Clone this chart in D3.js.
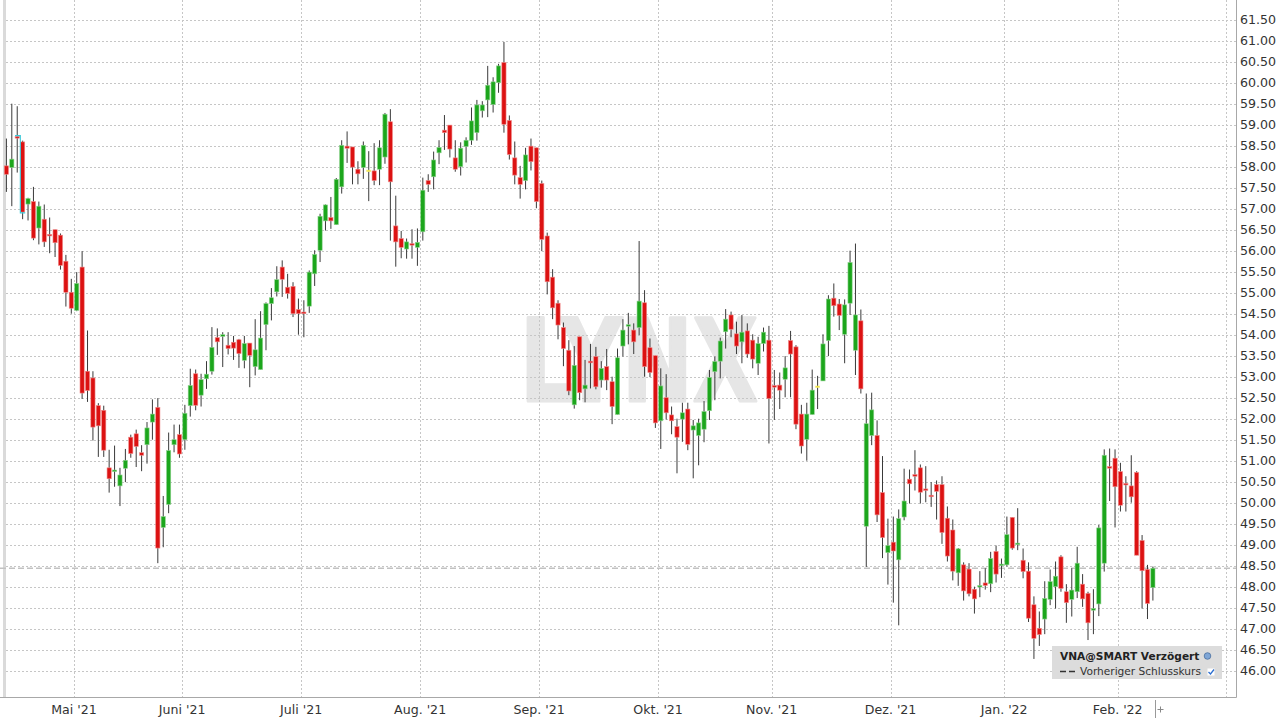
<!DOCTYPE html>
<html><head><meta charset="utf-8">
<script src="https://cdn.jsdelivr.net/npm/d3@7"></script>
<style>html,body{margin:0;padding:0;background:#fff;}svg{display:block;}</style>
</head><body>
<script>
// ---------- DATA ----------
const startDate = "2021-04-14";
const lastDate = "2022-02-09";
const axisEndDate = "2022-03-01";
const holidays = ["2021-05-24", "2021-12-24", "2021-12-31"];
const monthNames = ["Jan.", "Feb.", "März", "Apr.", "Mai", "Juni", "Juli", "Aug.", "Sep.", "Okt.", "Nov.", "Dez."];
const yTicks = d3.range(46, 61.501, 0.5);
const prevClose = 48.44;
const title = "VNA@SMART Verzögert";
const prevCloseLabel = "Vorheriger Schlusskurs";

const open = [58.02,57.98,58.72,58.59,57.11,57.17,56.54,56.75,56.37,56.50,56.37,55.75,55.01,54.58,55.61,53.13,52.97,52.31,52.20,50.83,
50.74,50.40,50.82,51.56,51.64,51.19,51.38,51.92,52.27,49.41,49.96,51.38,51.62,51.50,52.31,53.07,52.56,52.95,53.13,53.93,
53.96,53.75,53.82,53.88,53.39,53.80,53.24,53.17,54.24,54.74,55.02,55.61,55.13,55.15,54.60,54.54,54.68,55.45,56.01,56.71,
56.79,56.62,57.52,58.49,58.47,57.94,57.98,57.90,57.90,57.94,58.23,59.07,56.59,56.29,56.04,56.15,56.08,56.45,57.67,57.76,
58.33,58.87,58.99,58.21,58.00,58.48,58.63,58.81,59.33,59.59,59.48,60.00,60.48,59.10,58.21,57.74,57.67,58.49,58.45,57.60,
56.35,55.37,54.75,54.17,53.63,52.33,53.95,52.71,53.37,53.48,52.92,53.24,52.88,52.10,53.73,54.19,54.11,54.17,54.76,53.69,
53.50,51.95,52.50,52.09,51.81,51.99,52.23,51.73,51.60,51.75,52.19,53.12,53.37,54.07,54.47,54.02,53.83,54.09,53.87,53.32,
53.79,53.87,52.79,52.80,52.94,53.86,53.71,52.11,51.51,52.10,52.76,52.90,53.86,54.87,54.73,54.01,54.75,53.63,54.33,49.44,
51.60,51.60,50.24,48.81,49.06,48.64,49.66,50.56,50.67,50.83,50.31,50.16,50.43,50.43,49.63,49.35,48.33,48.52,48.42,47.94,
47.98,48.09,48.07,48.84,48.50,48.52,49.65,48.99,48.63,48.37,47.57,47.01,47.23,47.70,48.00,48.71,47.88,47.70,47.88,48.06,
47.84,47.44,47.59,48.56,50.84,51.06,50.74,50.44,50.40,50.72,49.10,48.41,47.98];
const high = [58.67,59.50,59.44,58.62,57.26,57.52,57.17,57.10,56.79,56.50,56.41,55.90,55.33,55.49,55.99,54.10,53.13,52.37,52.31,51.26,
51.36,50.83,51.28,51.62,51.74,51.37,51.92,52.46,52.49,50.16,51.67,51.86,51.86,52.33,53.19,53.17,53.07,53.37,54.18,54.15,
54.06,54.06,53.97,53.90,53.97,53.80,54.37,54.56,54.77,55.11,55.63,55.77,55.45,55.25,54.86,54.82,55.53,56.01,56.88,57.10,
57.28,57.73,58.63,58.84,58.47,58.13,58.60,58.37,58.56,58.63,59.28,59.37,57.31,56.47,56.29,56.51,56.53,57.74,57.82,58.36,
58.63,59.23,58.99,58.63,58.58,58.70,59.41,59.59,59.56,60.40,60.13,60.45,60.97,59.22,58.60,58.02,58.45,58.67,58.45,57.67,
56.43,55.56,54.82,54.29,53.87,53.73,53.95,53.40,53.78,53.71,53.37,53.66,53.00,53.67,54.37,54.52,54.27,56.23,55.06,53.91,
53.50,53.20,53.06,52.29,52.00,52.38,52.38,51.97,52.00,52.42,53.16,53.48,53.93,54.61,54.55,54.31,54.47,54.27,54.01,53.95,
54.17,54.21,53.16,53.10,53.49,54.09,53.75,52.33,52.38,53.17,53.02,54.01,54.94,55.22,54.85,54.84,56.00,56.17,54.60,52.60,
52.62,51.96,51.11,49.62,49.67,49.84,50.81,50.79,51.25,50.91,50.87,50.49,50.53,50.63,49.91,49.60,48.92,48.58,48.56,48.00,
48.37,48.44,48.83,48.98,48.67,49.67,49.65,49.87,48.91,48.58,47.77,47.41,48.13,48.41,48.60,48.75,48.06,48.44,48.95,48.30,
47.88,47.94,49.47,51.27,51.29,51.27,50.95,50.63,51.13,50.75,49.23,48.52,48.48];
const low = [57.40,57.06,57.86,56.75,56.72,56.25,56.15,56.09,55.94,55.85,55.55,54.67,54.50,54.56,52.47,52.40,51.48,51.09,51.09,50.24,
50.38,49.92,50.49,51.07,50.85,50.75,50.93,51.50,48.56,48.94,49.75,51.20,51.07,51.26,52.05,52.20,52.29,52.71,53.05,53.52,
53.23,53.53,53.40,53.21,53.20,52.75,53.03,53.17,53.63,54.34,54.91,54.90,54.86,54.42,54.00,53.94,54.52,55.16,55.73,56.48,
56.52,56.62,57.36,58.09,57.58,57.58,57.71,57.18,57.56,57.56,58.07,56.24,55.62,55.82,55.81,55.81,55.64,56.24,57.40,57.46,
58.06,58.40,58.22,57.88,57.79,58.10,58.52,58.62,59.17,59.18,59.29,59.76,58.81,58.17,57.58,57.24,57.46,57.91,57.01,55.99,
54.96,54.37,53.89,53.25,52.56,52.24,52.44,52.39,52.72,52.70,52.74,52.68,51.87,52.10,53.48,53.77,53.54,53.99,53.00,52.99,
51.78,51.28,51.98,51.63,50.70,51.45,51.25,50.58,50.89,51.44,51.97,52.44,52.96,53.67,53.94,53.54,53.32,53.45,53.20,53.04,
53.60,51.41,51.97,52.23,52.51,52.51,51.75,51.17,51.00,52.10,52.23,52.90,53.49,54.43,54.11,53.32,54.47,53.04,52.60,48.47,
51.37,49.54,48.68,48.05,47.62,47.08,49.58,49.98,50.29,49.98,50.01,49.90,49.60,49.02,48.60,48.15,48.02,47.67,47.77,47.36,
47.75,47.93,47.87,48.10,48.21,48.48,48.88,48.87,48.20,47.16,46.28,46.59,46.87,47.56,47.48,47.88,47.14,47.29,47.73,47.52,
46.73,46.87,47.30,48.36,50.04,49.41,49.79,49.79,50.00,48.75,47.48,47.23,47.67];
const close = [57.82,58.18,58.68,56.92,57.24,56.30,57.06,56.21,56.34,56.19,55.65,55.01,54.63,55.22,52.61,52.67,51.80,51.83,51.25,50.57,
50.76,50.66,51.01,51.17,51.34,51.13,51.78,52.11,48.92,49.67,51.24,51.50,51.16,52.13,52.79,52.32,52.93,53.06,53.70,53.83,
54.00,53.67,53.68,53.55,53.79,53.51,53.64,53.92,54.74,54.88,55.31,55.32,54.98,54.50,54.50,54.50,55.49,55.91,56.82,57.09,
56.71,57.70,58.51,58.44,57.99,57.83,58.51,57.90,57.67,58.45,59.25,57.64,56.21,56.08,56.21,56.12,56.20,57.44,57.58,58.16,
58.46,58.81,58.42,57.94,58.44,58.63,59.09,59.47,59.47,59.94,60.02,60.40,59.01,58.29,57.80,57.58,58.28,58.12,57.17,56.27,
55.26,54.64,54.23,53.67,52.66,53.27,52.62,52.80,53.33,52.76,53.20,52.92,52.29,53.45,54.11,54.22,53.83,54.80,53.24,53.10,
51.90,52.78,52.14,51.95,51.56,52.14,51.39,51.83,51.90,52.17,52.98,53.36,53.85,54.37,54.13,53.73,54.06,53.54,53.42,53.79,
54.06,52.48,52.75,52.68,53.21,53.54,51.87,51.35,52.11,52.68,52.76,53.78,54.85,54.69,54.46,54.71,55.72,54.47,52.71,51.88,
52.21,49.71,49.17,48.98,48.85,49.62,50.04,50.45,50.63,50.25,50.28,50.13,50.27,49.29,48.73,48.37,48.90,47.90,47.83,47.71,
48.01,48.03,48.67,48.30,48.52,49.24,48.92,49.02,48.36,47.25,46.77,46.86,47.72,48.12,48.25,47.96,47.62,47.92,48.56,47.71,
47.14,47.48,49.40,51.13,50.81,50.38,49.94,50.41,50.14,48.75,48.38,47.60,48.44];

// ---------- DATES (trading days) ----------
const fmt = d3.timeFormat("%Y-%m-%d");
const parse = d3.timeParse("%Y-%m-%d");
function tradingDays(from, to) {
  return d3.timeDay.range(parse(from), d3.timeDay.offset(parse(to), 1))
    .filter(d => d.getDay() !== 0 && d.getDay() !== 6 && !holidays.includes(fmt(d)))
    .map(fmt);
}
const dates = tradingDays(startDate, lastDate);
const slots = tradingDays(startDate, axisEndDate);
const candles = dates.map((d, i) => ({date: d, o: open[i], h: high[i], l: low[i], c: close[i]}));

// ---------- LAYOUT ----------
const W = 1280, H = 720;
const axisX = 1236, plotBottom = 697;
const svg = d3.select("body").append("svg").attr("width", W).attr("height", H);
svg.append("rect").attr("width", W).attr("height", H).attr("fill", "#fff");

const x = d3.scaleBand().domain(slots).range([3.7, 3.7 + slots.length * 5.408]).padding(0);
const y = d3.scaleLinear().domain([46, 61.5]).range([670.7, 19.7]);
const bw = x.bandwidth();
const cx = d => x(d) + bw / 2;

// watermark
svg.append("text").attr("x", 520).attr("y", 401)
  .attr("font-family", "DejaVu Sans, Liberation Sans, Arial, sans-serif").attr("font-weight", "bold")
  .attr("font-size", 114).attr("textLength", 238).attr("lengthAdjust", "spacingAndGlyphs")
  .attr("fill", "#e6e6e6").attr("stroke", "#e6e6e6").attr("stroke-width", 3).attr("stroke-linejoin", "round")
  .text("LYNX");

// left border
svg.append("rect").attr("x", 3).attr("y", 0).attr("width", 3).attr("height", plotBottom).attr("fill", "#dadada");

// horizontal grid
svg.append("g").selectAll("line").data(yTicks).join("line")
  .attr("x1", 6).attr("x2", axisX)
  .attr("y1", d => Math.round(y(d)) + 0.5).attr("y2", d => Math.round(y(d)) + 0.5)
  .attr("stroke", "#c6c6c6").attr("stroke-dasharray", "2,2");

// month boundaries
const boundaries = slots.filter((d, i) => i > 0 && d.slice(0, 7) !== slots[i - 1].slice(0, 7));
svg.append("g").selectAll("line").data(boundaries).join("line")
  .attr("x1", d => Math.round(x(d)) + 0.5).attr("x2", d => Math.round(x(d)) + 0.5)
  .attr("y1", 0).attr("y2", plotBottom)
  .attr("stroke", "#c6c6c6").attr("stroke-dasharray", "2,2");

// previous close line
svg.append("line").attr("x1", 0).attr("x2", axisX)
  .attr("y1", y(prevClose)).attr("y2", y(prevClose))
  .attr("stroke", "#c2c2c2").attr("stroke-width", 1.6).attr("stroke-dasharray", "6,3");

// candles
const colorOf = d => d.c > d.o ? "#1ca61c" : (d.c < d.o ? "#dc1212" : "#f0e21a");
const edgeOf = d => d.c > d.o ? "#8fd38f" : (d.c < d.o ? "#f08a8a" : "#f6ee8a");
const g = svg.append("g");
g.selectAll("line.wick").data(candles).join("line").attr("class", "wick")
  .attr("x1", d => cx(d.date)).attr("x2", d => cx(d.date))
  .attr("y1", d => y(d.h)).attr("y2", d => y(d.l))
  .attr("stroke", "#3a3a3a").attr("stroke-width", 1);
g.selectAll("rect.body").data(candles).join("rect").attr("class", "body")
  .attr("x", d => cx(d.date) - 2.1).attr("width", 4.2)
  .attr("y", d => y(Math.max(d.o, d.c)) - (Math.abs(y(d.o) - y(d.c)) < 1.5 ? 0.75 : 0))
  .attr("height", d => Math.max(1.5, Math.abs(y(d.o) - y(d.c))))
  .attr("fill", colorOf).attr("stroke", edgeOf).attr("stroke-width", 0.6);

// selection highlight (cyan)
const c2 = candles[2], c3 = candles[3];
svg.append("path")
  .attr("d", `M${cx(c2.date) - 2.2},${y(c2.o) - 0.8} H${cx(c3.date) - 2.3} V${y(c3.c) + 0.8} H${cx(c3.date) + 2.6}`)
  .attr("fill", "none").attr("stroke", "#3cc8d8").attr("stroke-width", 1.1);

// axes lines
svg.append("line").attr("x1", axisX + 0.5).attr("x2", axisX + 0.5).attr("y1", 0).attr("y2", plotBottom + 0.5)
  .attr("stroke", "#a8a8a8");
svg.append("line").attr("x1", 0).attr("x2", axisX + 0.5).attr("y1", plotBottom + 0.5).attr("y2", plotBottom + 0.5)
  .attr("stroke", "#a8a8a8");

// y labels
svg.append("g").selectAll("text").data(yTicks).join("text")
  .attr("x", 1240).attr("y", d => y(d)).attr("dy", "0.36em")
  .attr("font-family", "DejaVu Sans, Verdana, sans-serif").attr("font-size", 12.6).attr("fill", "#333")
  .text(d => d.toFixed(2));

// month labels
const labeled = boundaries.filter(d => dates.includes(d));
svg.append("g").selectAll("text").data(labeled).join("text")
  .attr("x", d => x(d)).attr("y", 714).attr("text-anchor", "middle")
  .attr("font-family", "DejaVu Sans, Verdana, sans-serif").attr("font-size", 12.6).attr("fill", "#333")
  .text(d => { const t = parse(d); return monthNames[t.getMonth()] + " '" + String(t.getFullYear()).slice(2); });

// bottom separator + icon
svg.append("line").attr("x1", 1155.5).attr("x2", 1155.5).attr("y1", 700).attr("y2", 718).attr("stroke", "#999");
svg.append("path").attr("d", "M1157.5,709.5 H1163.5 M1160.5,706.5 V712.5").attr("stroke", "#888").attr("stroke-width", 1);

// legend
svg.append("rect").attr("x", 1052).attr("y", 646).attr("width", 170).attr("height", 33).attr("fill", "#dcdcdc");
svg.append("text").attr("x", 1060).attr("y", 660).attr("font-family", "DejaVu Sans, Verdana, sans-serif")
  .attr("font-weight", "bold").attr("font-size", 10.6).attr("fill", "#222").text(title);
svg.append("circle").attr("cx", 1207.5).attr("cy", 656).attr("r", 3.3).attr("fill", "#7fa6d6").attr("stroke", "#4a6f9e").attr("stroke-width", 0.8);
svg.append("line").attr("x1", 1060).attr("x2", 1077).attr("y1", 671.5).attr("y2", 671.5)
  .attr("stroke", "#333").attr("stroke-width", 1.3).attr("stroke-dasharray", "6,3");
svg.append("text").attr("x", 1080).attr("y", 675).attr("font-family", "DejaVu Sans, Verdana, sans-serif")
  .attr("font-size", 10.6).attr("fill", "#333").text(prevCloseLabel);
svg.append("rect").attr("x", 1207.5).attr("y", 668.5).attr("width", 7).attr("height", 7).attr("fill", "#fff");
svg.append("path").attr("d", "M1208.5,672 L1210.5,674 L1214,669.5").attr("fill", "none").attr("stroke", "#2d6fd0").attr("stroke-width", 1.3);
</script>
</body></html>
